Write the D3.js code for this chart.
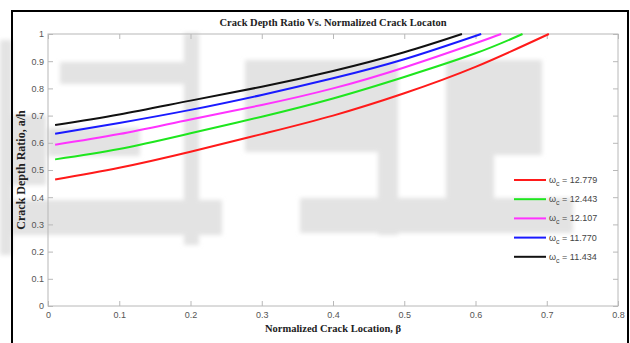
<!DOCTYPE html>
<html>
<head>
<meta charset="utf-8">
<script src="https://cdn.jsdelivr.net/npm/d3@7"></script>
<style>
	body { margin: 0; background: #fff; }
	svg { display: block; }
	.tick text { font-family: "Liberation Sans", Arial, sans-serif; font-size: 9px; fill: #555; }
</style>
</head>
<body>
<svg id="chart" width="630" height="343"></svg>
<script>
// frequencies shown in the legend
const omegas = ["12.779", "12.443", "12.107", "11.770", "11.434"];
const colors = ["#ff1a1a", "#1ee61e", "#ff33ff", "#1a1aff", "#111111"];

// crack location grid and crack depth ratio read per curve
const betaGrid = [0.01, 0.1, 0.2, 0.3, 0.4, 0.5, 0.6];
const ratioRed = [0.465, 0.508, 0.567, 0.632, 0.700, 0.782, 0.879];
const ratioGreen = [0.539, 0.577, 0.635, 0.696, 0.763, 0.842, 0.929];
const ratioMagenta = [0.593, 0.632, 0.686, 0.739, 0.800, 0.877, 0.966];
const ratioBlue = [0.633, 0.673, 0.721, 0.776, 0.837, 0.907];
const ratioBlack = [0.665, 0.704, 0.755, 0.806, 0.864, 0.933];
// location where each curve reaches a/h = 1
const betaAtFull = [0.703, 0.666, 0.636, 0.608, 0.581];

const xTicks = [0, 0.1, 0.2, 0.3, 0.4, 0.5, 0.6, 0.7, 0.8];
const yTicks = [0, 0.1, 0.2, 0.3, 0.4, 0.5, 0.6, 0.7, 0.8, 0.9, 1];

const series = [ratioRed, ratioGreen, ratioMagenta, ratioBlue, ratioBlack].map((vals, i) => {
	const pts = vals.map((v, j) => [betaGrid[j], v]);
	pts.push([betaAtFull[i], 1]);
	return { name: omegas[i], color: colors[i], points: pts };
});

const plotLeft = 48, plotRight = 618, plotTop = 34, plotBottom = 306;
const svg = d3.select("#chart");

// faint scanned watermark behind the figure
const watermark = [
	[0, 40, 12, 215], [12, 115, 34, 70], [0, 200, 222, 35], [60, 62, 130, 22],
	[48, 128, 92, 28], [184, 33, 15, 212], [245, 60, 153, 92], [378, 60, 20, 175],
	[300, 198, 273, 35], [446, 60, 96, 95], [446, 60, 48, 173]
];
const defs = svg.append("defs");
defs.append("filter").attr("id", "soft")
	.append("feGaussianBlur").attr("stdDeviation", 2);
svg.append("g")
	.attr("filter", "url(#soft)")
	.selectAll("rect")
	.data(watermark)
	.join("rect")
	.attr("x", d => d[0]).attr("y", d => d[1])
	.attr("width", d => d[2]).attr("height", d => d[3])
	.attr("fill", "#e3e3e3");

// page frame
svg.append("rect")
	.attr("x", 12).attr("y", 11)
	.attr("width", 616).attr("height", 340)
	.attr("fill", "none")
	.attr("stroke", "#000")
	.attr("stroke-width", 2);

const x = d3.scaleLinear().domain([0, 0.8]).range([plotLeft, plotRight]);
const y = d3.scaleLinear().domain([0, 1]).range([plotBottom, plotTop]);

const axisColor = "#b8b8b8";
const styleAxis = g => {
	g.select(".domain").remove();
	g.selectAll(".tick line").attr("stroke", axisColor);
};

svg.append("g")
	.attr("transform", `translate(0,${plotBottom})`)
	.call(d3.axisBottom(x).tickValues(xTicks).tickSize(-5).tickPadding(5).tickFormat(d3.format("")))
	.call(styleAxis)
	.selectAll("text").attr("dy", "0.8em");
svg.append("g")
	.attr("transform", `translate(0,${plotTop})`)
	.call(d3.axisTop(x).tickValues(xTicks).tickSize(-5).tickFormat(""))
	.call(styleAxis);
svg.append("g")
	.attr("transform", `translate(${plotLeft},0)`)
	.call(d3.axisLeft(y).tickValues(yTicks).tickSize(-5).tickPadding(4).tickFormat(d3.format("")))
	.call(styleAxis);
svg.append("g")
	.attr("transform", `translate(${plotRight},0)`)
	.call(d3.axisRight(y).tickValues(yTicks).tickSize(-5).tickFormat(""))
	.call(styleAxis);

svg.append("rect")
	.attr("x", plotLeft).attr("y", plotTop)
	.attr("width", plotRight - plotLeft).attr("height", plotBottom - plotTop)
	.attr("fill", "none")
	.attr("stroke", axisColor);

const line = d3.line()
	.x(d => x(d[0]))
	.y(d => y(d[1]))
	.curve(d3.curveNatural);

svg.append("g")
	.selectAll("path")
	.data(series)
	.join("path")
	.attr("d", d => line(d.points))
	.attr("fill", "none")
	.attr("stroke", d => d.color)
	.attr("stroke-width", 2);

// titles
svg.append("text")
	.attr("x", (plotLeft + plotRight) / 2).attr("y", 26)
	.attr("text-anchor", "middle")
	.attr("font-family", "Liberation Serif, serif")
	.attr("font-weight", "bold")
	.attr("font-size", 10.5)
	.attr("fill", "#222")
	.text("Crack Depth Ratio Vs. Normalized Crack Locaton");
svg.append("text")
	.attr("x", (plotLeft + plotRight) / 2).attr("y", 332)
	.attr("text-anchor", "middle")
	.attr("font-family", "Liberation Serif, serif")
	.attr("font-weight", "bold")
	.attr("font-size", 10.5)
	.attr("fill", "#222")
	.text("Normalized Crack Location, β");
svg.append("text")
	.attr("transform", `translate(25,${(plotTop + plotBottom) / 2}) rotate(-90)`)
	.attr("text-anchor", "middle")
	.attr("font-family", "Liberation Serif, serif")
	.attr("font-weight", "bold")
	.attr("font-size", 12)
	.attr("fill", "#222")
	.text("Crack Depth Ratio, a/h");

// legend
const legend = svg.append("g")
	.attr("transform", "translate(514,180)");
const item = legend.selectAll("g")
	.data(series)
	.join("g")
	.attr("transform", (d, i) => `translate(0,${i * 19.2})`);
item.append("line")
	.attr("x1", 0).attr("x2", 32)
	.attr("stroke", d => d.color)
	.attr("stroke-width", 2);
const label = item.append("text")
	.attr("x", 35).attr("y", 3)
	.attr("font-family", "Liberation Sans, Arial, sans-serif")
	.attr("font-size", 9)
	.attr("fill", "#444");
label.append("tspan").text("ω");
label.append("tspan").attr("dy", 3).attr("font-size", 7).text("c");
label.append("tspan").attr("dy", -3).text(d => " = " + d.name);
</script>
</body>
</html>
